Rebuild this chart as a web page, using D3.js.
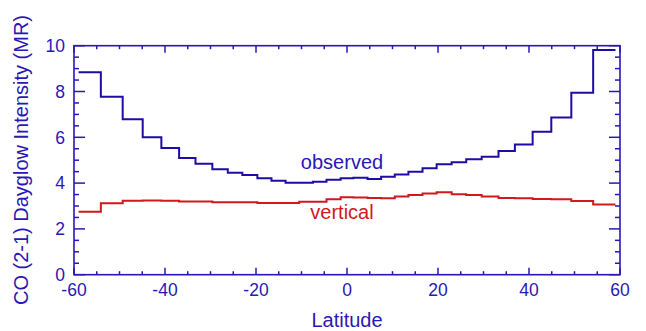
<!DOCTYPE html>
<html><head><meta charset="utf-8">
<script src="https://cdn.jsdelivr.net/npm/d3@7"></script>
<style>html,body{margin:0;padding:0;background:#fff;} text{font-family:"Liberation Sans",Arial,sans-serif;}</style>
</head><body>
<svg id="chart" width="646" height="331"></svg>
<script>
const binEdges = [-59.0,-54.1,-49.3,-44.9,-40.8,-36.9,-33.3,-29.6,-26.2,-23.0,-19.7,-16.6,-13.5,-10.5,-7.5,-4.5,-1.4,1.4,4.5,7.5,10.5,13.5,16.6,19.7,23.0,26.2,29.6,33.3,36.9,40.8,44.9,49.3,54.1,59.0];
const observed = [8.84,7.77,6.79,6.00,5.53,5.10,4.84,4.61,4.45,4.35,4.21,4.10,4.02,4.01,4.06,4.15,4.21,4.23,4.18,4.28,4.38,4.50,4.65,4.82,4.91,5.04,5.15,5.40,5.69,6.24,6.86,7.95,9.81];
const vertical = [2.75,3.12,3.23,3.24,3.23,3.20,3.20,3.16,3.16,3.16,3.13,3.13,3.13,3.19,3.19,3.30,3.38,3.37,3.35,3.34,3.41,3.48,3.55,3.60,3.51,3.48,3.41,3.35,3.34,3.31,3.30,3.22,3.07];
const xTicks = [-60,-40,-20,0,20,40,60];
const yTicks = [0,2,4,6,8,10];
const xLabel = "Latitude";
const yLabel = "CO (2-1) Dayglow Intensity (MR)";
const seriesLabels = ["observed","vertical"];

const axisColor = "#2a17b5", obsColor = "#1e0ca8", vertColor = "#d0181e";
const svg = d3.select("#chart");
const L = 74, R = 620, T = 45.7, B = 274.7;
const x = d3.scaleLinear().domain([-60,60]).range([L,R]);
const y = d3.scaleLinear().domain([0,10]).range([B,T]);

const xMinor = d3.range(-60,60.1,5), yMinor = d3.range(0,10.01,0.5);
const g = svg.append("g");
// frame
g.append("rect").attr("x",L).attr("y",T).attr("width",R-L).attr("height",B-T)
 .attr("fill","none").attr("stroke",axisColor).attr("stroke-width",1.6);
// x ticks bottom & top
xMinor.forEach(v=>{
  const major = xTicks.includes(Math.round(v));
  const len = major?7:3.5;
  g.append("line").attr("x1",x(v)).attr("x2",x(v)).attr("y1",B).attr("y2",B-len).attr("stroke",axisColor).attr("stroke-width",1.5);
  g.append("line").attr("x1",x(v)).attr("x2",x(v)).attr("y1",T).attr("y2",T+len).attr("stroke",axisColor).attr("stroke-width",1.5);
});
yMinor.forEach(v=>{
  const major = yTicks.some(t=>Math.abs(t-v)<1e-6);
  const len = major?11:5;
  g.append("line").attr("y1",y(v)).attr("y2",y(v)).attr("x1",L).attr("x2",L+len).attr("stroke",axisColor).attr("stroke-width",1.5);
  g.append("line").attr("y1",y(v)).attr("y2",y(v)).attr("x1",R).attr("x2",R-len).attr("stroke",axisColor).attr("stroke-width",1.5);
});
// tick labels
xTicks.forEach(v=>{
  g.append("text").attr("x",x(v)).attr("y",296).attr("text-anchor","middle")
   .attr("font-size",17.5).attr("fill",axisColor).text(v);
});
yTicks.forEach(v=>{
  g.append("text").attr("x",65).attr("y",y(v)+6.2).attr("text-anchor","end")
   .attr("font-size",17.5).attr("fill",axisColor).text(v);
});
// axis titles
g.append("text").attr("x",(L+R)/2).attr("y",327).attr("text-anchor","middle")
 .attr("font-size",20).attr("fill",axisColor).text(xLabel);
g.append("text").attr("transform","translate(28,160) rotate(-90)").attr("text-anchor","middle")
 .attr("font-size",20).attr("fill",axisColor).text(yLabel);

function stepPoints(vals){
  const pts = [];
  vals.forEach((v,i)=>{ pts.push([binEdges[i],v]); pts.push([binEdges[i+1],v]); });
  return pts;
}
const line = d3.line().x(d=>x(d[0])).y(d=>y(d[1]));
g.append("path").attr("d",line(stepPoints(vertical))).attr("fill","none").attr("stroke",vertColor).attr("stroke-width",2);
g.append("path").attr("d",line(stepPoints(observed))).attr("fill","none").attr("stroke",obsColor).attr("stroke-width",2);

g.append("text").attr("x",342).attr("y",169).attr("text-anchor","middle").attr("font-size",20).attr("fill",axisColor).text(seriesLabels[0]);
g.append("text").attr("x",342).attr("y",219).attr("text-anchor","middle").attr("font-size",20).attr("fill",vertColor).text(seriesLabels[1]);
</script>
</body></html>
